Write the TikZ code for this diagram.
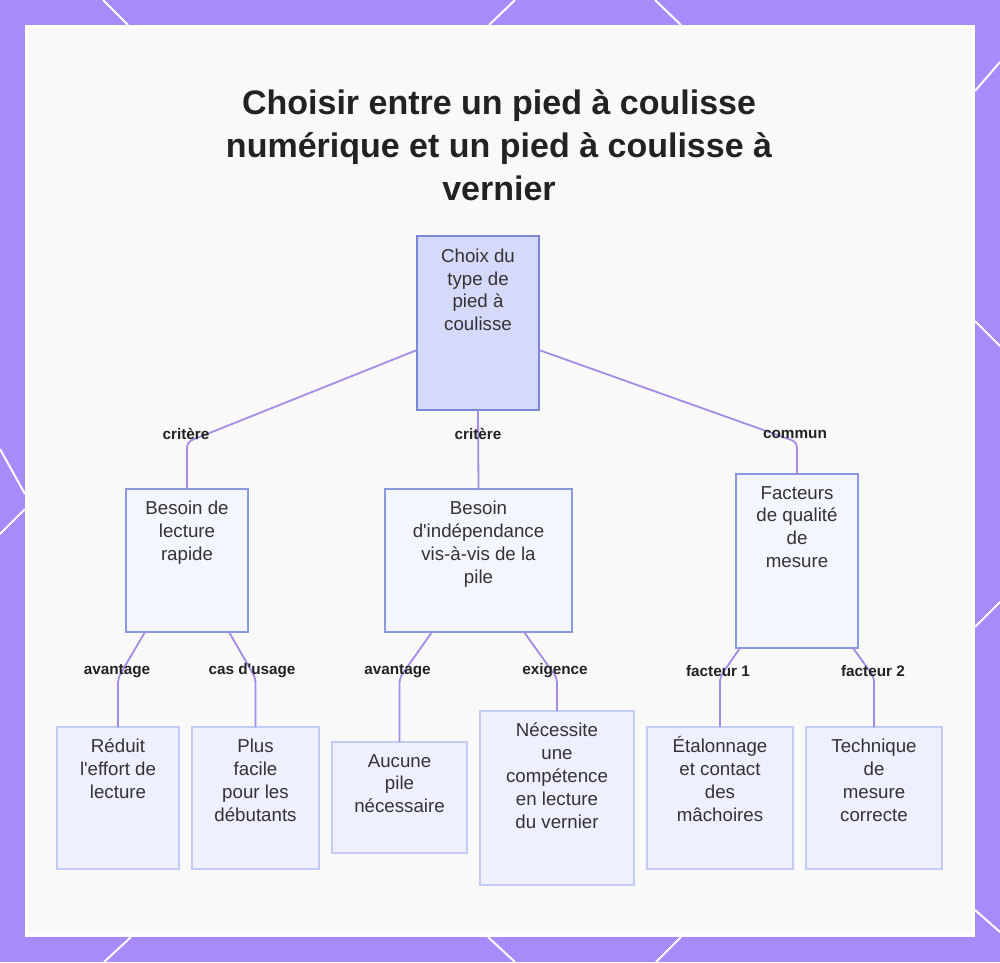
\documentclass[tikz,border=0pt]{standalone}
\usepackage{fontspec}
\setmainfont{Liberation Sans}
\definecolor{bgviolet}{RGB}{167,139,250}
\definecolor{panelc}{RGB}{249,249,249}
\definecolor{edgec}{RGB}{162,140,228}
\definecolor{rootfill}{RGB}{213,217,250}
\definecolor{rootstroke}{RGB}{122,134,214}
\definecolor{lonefill}{RGB}{244,246,255}
\definecolor{lonestroke}{RGB}{138,153,222}
\definecolor{ltwofill}{RGB}{238,240,253}
\definecolor{ltwostroke}{RGB}{196,203,245}
\definecolor{txtc}{RGB}{51,51,51}
\definecolor{lblc}{RGB}{34,34,34}
\definecolor{titlec}{RGB}{34,34,34}
\begin{document}
\begin{tikzpicture}[x=1pt,y=-1pt,
  rootbox/.style={draw=rootstroke, fill=rootfill, line width=1.5pt, inner sep=0pt, outer sep=0pt},
  lonebox/.style={draw=lonestroke, fill=lonefill, line width=1.5pt, inner sep=0pt, outer sep=0pt},
  ltwobox/.style={draw=ltwostroke, fill=ltwofill, line width=1.5pt, inner sep=0pt, outer sep=0pt},
  txt/.style={inner sep=0pt, align=center, text=txtc, font=\fontsize{18.7}{22.8}\selectfont, anchor=north},
  elabel/.style={inner sep=0pt, text=lblc, font=\bfseries\fontsize{15.3}{18}\selectfont},
  edge/.style={draw=edgec, line width=1.8pt, rounded corners=5pt},
  deco/.style={draw=white, line width=2pt},
  titlestyle/.style={inner sep=0pt, align=center, text=titlec, font=\bfseries\fontsize{34}{43}\selectfont}
]
\useasboundingbox (0,0) rectangle (1000,962);
% background
\fill[bgviolet] (0,0) rectangle (1000,962);
\draw[deco] (103,0) -- (128,25);
\draw[deco] (515,0) -- (489,25);
\draw[deco] (655,0) -- (681,25);
\draw[deco] (131,937) -- (104,962);
\draw[deco] (488,937) -- (515,962);
\draw[deco] (681,937) -- (656,962);
\draw[deco] (0,449) -- (25,494);
\draw[deco] (25,509) -- (0,534);
\draw[deco] (1000,62) -- (975,91);
\draw[deco] (975,321) -- (1000,346);
\draw[deco] (975,627) -- (1000,602);
\draw[deco] (975,910) -- (1000,932);
\fill[white] (25,25) rectangle (975,937);
\fill[panelc] (29,29) rectangle (971,933);

% title
\node[titlestyle, anchor=north] (title) at (499,89) {Choisir entre un pied à coulisse\\numérique et un pied à coulisse à\\vernier};

% boxes
\node[rootbox, minimum width=122pt, minimum height=174pt] (root) at (478,323) {};
\node[lonebox, minimum width=122pt, minimum height=143pt] (B1) at (187,560.5) {};
\node[lonebox, minimum width=187pt, minimum height=143pt] (B2) at (478.5,560.5) {};
\node[lonebox, minimum width=122pt, minimum height=174pt] (B3) at (797,561) {};
\node[ltwobox, minimum width=122pt, minimum height=142pt] (C1) at (118,798) {};
\node[ltwobox, minimum width=127pt, minimum height=142pt] (C2) at (255.5,798) {};
\node[ltwobox, minimum width=135pt, minimum height=111pt] (C3) at (399.5,797.5) {};
\node[ltwobox, minimum width=154pt, minimum height=174pt] (C4) at (557,798) {};
\node[ltwobox, minimum width=146pt, minimum height=142pt] (C5) at (720,798) {};
\node[ltwobox, minimum width=136pt, minimum height=142pt] (C6) at (874,798) {};

% box texts
\node[txt] (roott) at ([yshift=-12.5pt]root.north) {Choix du\\type de\\pied à\\coulisse};
\node[txt] (B1t) at ([yshift=-12pt]B1.north) {Besoin de\\lecture\\rapide};
\node[txt] (B2t) at ([yshift=-12pt]B2.north) {Besoin\\d\textquotesingle indépendance\\vis-à-vis de la\\pile};
\node[txt] (B3t) at ([yshift=-12pt]B3.north) {Facteurs\\de qualité\\de\\mesure};
\node[txt] (C1t) at ([yshift=-12pt]C1.north) {Réduit\\l\textquotesingle effort de\\lecture};
\node[txt] (C2t) at ([yshift=-12pt]C2.north) {Plus\\facile\\pour les\\débutants};
\node[txt] (C3t) at ([yshift=-12pt]C3.north) {Aucune\\pile\\nécessaire};
\node[txt] (C4t) at ([yshift=-12pt]C4.north) {Nécessite\\une\\compétence\\en lecture\\du vernier};
\node[txt] (C5t) at ([yshift=-12pt]C5.north) {\smash{É}talonnage\\et contact\\des\\mâchoires};
\node[txt] (C6t) at ([yshift=-12pt]C6.north) {Technique\\de\\mesure\\correcte};

% bends
\coordinate (k1) at (187,442);
\coordinate (k3) at (797,442);
\coordinate (k4) at (118,678);
\coordinate (k5) at (255.5,678);
\coordinate (k6) at (399.5,678);
\coordinate (k7) at (557,678);
\coordinate (k8) at (720,677);
\coordinate (k9) at (874,677);

% edges
\draw[edge] ([yshift=-27pt]root.west) -- (k1) -- (B1.north);
\draw[edge] (root.south) -- (B2.north);
\draw[edge] ([yshift=-27pt]root.east) -- (k3) -- (B3.north);
\draw[edge] ([xshift=-42pt]B1.south) -- (k4) -- (C1.north);
\draw[edge] ([xshift=42pt]B1.south) -- (k5) -- (C2.north);
\draw[edge] ([xshift=-46.5pt]B2.south) -- (k6) -- (C3.north);
\draw[edge] ([xshift=45.5pt]B2.south) -- (k7) -- (C4.north);
\draw[edge] ([xshift=-57pt]B3.south) -- (k8) -- (C5.north);
\draw[edge] ([xshift=56pt]B3.south) -- (k9) -- (C6.north);

% edge labels
\node[elabel] (L1) at (186,434) {critère};
\node[elabel] (L2) at (478,434) {critère};
\node[elabel] (L3) at (795,434) {commun};
\node[elabel] (L4) at (117,671) {avantage};
\node[elabel] (L5) at (252,671) {cas d\textquotesingle usage};
\node[elabel] (L6) at (397.5,671) {avantage};
\node[elabel] (L7) at (555,671) {exigence};
\node[elabel] (L8) at (718,671) {facteur 1};
\node[elabel] (L9) at (873,671) {facteur 2};
\end{tikzpicture}
\end{document}
